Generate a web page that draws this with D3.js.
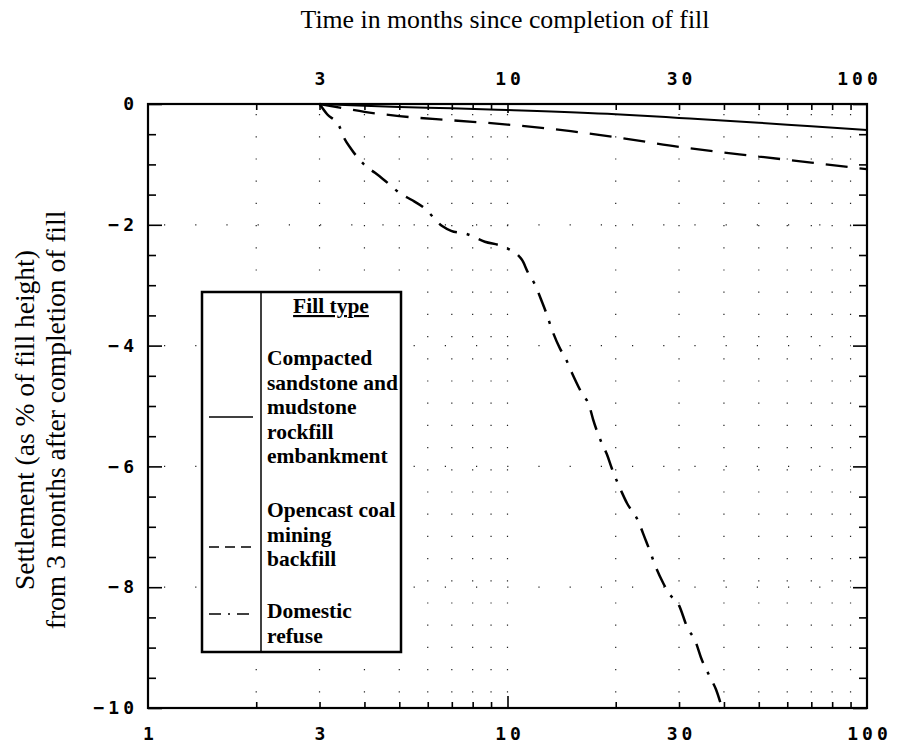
<!DOCTYPE html>
<html>
<head>
<meta charset="utf-8">
<script src="https://cdn.jsdelivr.net/npm/d3@7"></script>
<style>
  body { margin: 0; background: #fff; }
  svg { display: block; }
</style>
</head>
<body>
<div id="chart"></div>
<script>
// months since completion of fill / settlement in % of fill height
const sandstoneX = [3, 4, 5, 7, 10, 20, 30, 50, 70, 100];
const sandstoneY = [0, -0.03, -0.05, -0.07, -0.1, -0.17, -0.23, -0.31, -0.37, -0.43];

const opencastX = [3, 3.5, 4, 5, 7, 10, 15, 20, 30, 50, 70, 100];
const opencastY = [0, -0.07, -0.13, -0.2, -0.27, -0.34, -0.45, -0.55, -0.71, -0.87, -0.97, -1.08];

const refuseX = [3, 3.15, 3.4, 3.51, 3.67, 4.02, 4.28, 4.5, 5.06, 5.42, 5.86, 6.58, 6.97, 7.68, 8.65, 9.71,
  10.97, 11.4, 11.9, 12.5, 12.8, 13.3, 14.0, 14.5, 15.1, 16.1, 16.87, 17.3, 18.3, 18.9, 19.5, 20.8, 21.5,
  22.9, 24.3, 24.9, 25.6, 27.1, 28.1, 30.0, 31.6, 33.4, 34.5, 36.6, 38.0, 39.5];
const refuseY = [0, -0.17, -0.36, -0.56, -0.74, -1.02, -1.14, -1.24, -1.49, -1.59, -1.72, -2.02, -2.1, -2.15, -2.28, -2.36,
  -2.58, -2.79, -2.98, -3.29, -3.45, -3.74, -4.05, -4.21, -4.45, -4.79, -4.99, -5.22, -5.62, -5.8, -6.03, -6.43, -6.61,
  -6.86, -7.24, -7.4, -7.6, -7.93, -8.1, -8.3, -8.66, -8.91, -9.16, -9.49, -9.69, -10];

const bottomLabels = [1, 3, 10, 30, 100];
const topLabels = [3, 10, 30, 100];
const yLabels = [0, -2, -4, -6, -8, -10];
const xMinor = [2, 3, 4, 5, 6, 7, 8, 9, 20, 30, 40, 50, 60, 70, 80, 90];
const xGrid = [2, 3, 4, 5, 6, 7, 8, 9, 10, 20, 30, 40, 50, 60, 70, 80, 90];
const yGrid = [-2, -4, -6, -8];
const yMinor = d3.range(-10, 0.01, 0.5);

const legendItems = [
  { lines: ["Compacted", "sandstone and", "mudstone", "rockfill", "embankment"], dash: null },
  { lines: ["Opencast coal", "mining", "backfill"], dash: "10,6" },
  { lines: ["Domestic", "refuse"], dash: "12,7,2,7" }
];

const W = 902, H = 743;
const pLeft = 148, pRight = 867, pTop = 104, pBottom = 708;
const monoFont = "'DejaVu Sans Mono', monospace";
const serif = "'Liberation Serif', 'Times New Roman', serif";
const ls = 4;

const svg = d3.select("#chart").append("svg")
  .attr("width", W)
  .attr("height", H)
  .style("background", "#fff");

const x = d3.scaleLog().domain([1, 100]).range([pLeft, pRight]);
const y = d3.scaleLinear().domain([-10, 0]).range([pBottom, pTop]);

// sparse dotted grid
svg.append("g").selectAll("line")
  .data(xGrid)
  .enter().append("line")
  .attr("x1", d => x(d)).attr("x2", d => x(d))
  .attr("y1", pTop + 10).attr("y2", pBottom - 8)
  .attr("stroke", "#222")
  .attr("stroke-width", 1.2)
  .attr("stroke-dasharray", "1.2,21");

svg.append("g").selectAll("line")
  .data(yGrid)
  .enter().append("line")
  .attr("x1", pLeft + 16).attr("x2", pRight - 16)
  .attr("y1", d => y(d)).attr("y2", d => y(d))
  .attr("stroke", "#222")
  .attr("stroke-width", 1.2)
  .attr("stroke-dasharray", "1.2,30");

function styleAxis(g) {
  g.select(".domain").remove();
  g.selectAll("line").attr("stroke", "#000").attr("stroke-width", 1.6);
  g.selectAll("text")
    .style("font-family", monoFont)
    .style("font-weight", "bold")
    .style("font-size", "18px")
    .style("letter-spacing", ls + "px")
    .attr("fill", "#000");
}

// bottom axis
svg.append("g")
  .attr("transform", "translate(0," + pBottom + ")")
  .call(d3.axisBottom(x).tickValues(xMinor).tickSizeInner(-6).tickSizeOuter(0).tickFormat(""))
  .call(styleAxis);
svg.append("g")
  .attr("transform", "translate(0," + pBottom + ")")
  .call(d3.axisBottom(x).tickValues([10]).tickSizeInner(-12).tickSizeOuter(0).tickFormat(""))
  .call(styleAxis);
svg.append("g")
  .attr("transform", "translate(" + (ls / 2) + "," + pBottom + ")")
  .call(d3.axisBottom(x).tickValues(bottomLabels).tickSize(0).tickPadding(19).tickFormat(d3.format("d")))
  .call(styleAxis);

// top axis
svg.append("g")
  .attr("transform", "translate(0," + pTop + ")")
  .call(d3.axisTop(x).tickValues(xMinor).tickSizeInner(-6).tickSizeOuter(0).tickFormat(""))
  .call(styleAxis);
svg.append("g")
  .attr("transform", "translate(0," + pTop + ")")
  .call(d3.axisTop(x).tickValues([10]).tickSizeInner(-9).tickSizeOuter(0).tickFormat(""))
  .call(styleAxis);
const topAxis = svg.append("g")
  .attr("transform", "translate(" + (ls / 2) + "," + pTop + ")")
  .call(d3.axisTop(x).tickValues(topLabels).tickSize(0).tickPadding(19).tickFormat(d3.format("d")))
  .call(styleAxis);
// last label sits inside the corner
topAxis.selectAll(".tick text").filter(d => d === 100).attr("dx", -10);

// left and right axes
const yMajor = yMinor.filter(d => d % 2 === 0);
const yMinorOnly = yMinor.filter(d => d % 2 !== 0);
svg.append("g")
  .attr("transform", "translate(" + pLeft + ",0)")
  .call(d3.axisLeft(y).tickValues(yMinorOnly).tickSizeInner(-8).tickSizeOuter(0).tickFormat(""))
  .call(styleAxis);
svg.append("g")
  .attr("transform", "translate(" + pLeft + ",0)")
  .call(d3.axisLeft(y).tickValues(yMajor).tickSizeInner(-14).tickSizeOuter(0).tickFormat(""))
  .call(styleAxis);
svg.append("g")
  .attr("transform", "translate(" + pLeft + ",0)")
  .call(d3.axisLeft(y).tickValues(yLabels).tickSize(0).tickPadding(10).tickFormat(d3.format("d")))
  .call(styleAxis);
svg.append("g")
  .attr("transform", "translate(" + pRight + ",0)")
  .call(d3.axisRight(y).tickValues(yMinorOnly).tickSizeInner(-8).tickSizeOuter(0).tickFormat(""))
  .call(styleAxis);
svg.append("g")
  .attr("transform", "translate(" + pRight + ",0)")
  .call(d3.axisRight(y).tickValues(yMajor).tickSizeInner(-14).tickSizeOuter(0).tickFormat(""))
  .call(styleAxis);

// frame
svg.append("rect")
  .attr("x", pLeft).attr("y", pTop)
  .attr("width", pRight - pLeft).attr("height", pBottom - pTop)
  .attr("fill", "none")
  .attr("stroke", "#000")
  .attr("stroke-width", 2.2);

// curves
const line = d3.line()
  .x(d => x(d[0]))
  .y(d => y(d[1]))
  .curve(d3.curveMonotoneX);

svg.append("path")
  .datum(d3.zip(sandstoneX, sandstoneY))
  .attr("d", line)
  .attr("fill", "none")
  .attr("stroke", "#000")
  .attr("stroke-width", 2);

svg.append("path")
  .datum(d3.zip(opencastX, opencastY))
  .attr("d", line)
  .attr("fill", "none")
  .attr("stroke", "#000")
  .attr("stroke-width", 2.3)
  .attr("stroke-dasharray", "22,12");

svg.append("path")
  .datum(d3.zip(refuseX, refuseY))
  .attr("d", line)
  .attr("fill", "none")
  .attr("stroke", "#000")
  .attr("stroke-width", 2.5)
  .attr("stroke-dasharray", "20,10,3,10");

// titles
svg.append("text")
  .attr("x", 505)
  .attr("y", 28)
  .attr("text-anchor", "middle")
  .style("font-family", serif)
  .style("font-size", "25.8px")
  .text("Time in months since completion of fill");

const ylab = svg.append("text")
  .attr("transform", "translate(0,420) rotate(-90)")
  .attr("text-anchor", "middle")
  .style("font-family", serif)
  .style("font-size", "27.5px");
ylab.append("tspan").attr("x", 0).attr("y", 34).text("Settlement (as % of fill height)");
ylab.append("tspan").attr("x", 0).attr("y", 65).text("from 3 months after completion of fill");

// legend
const lg = svg.append("g");
const lgLeft = 202, lgTop = 292, lgRight = 401, lgBottom = 652, lgDiv = 261;
lg.append("rect")
  .attr("x", lgLeft).attr("y", lgTop)
  .attr("width", lgRight - lgLeft).attr("height", lgBottom - lgTop)
  .attr("fill", "#fff")
  .attr("stroke", "#000")
  .attr("stroke-width", 2.5);
lg.append("line")
  .attr("x1", lgDiv).attr("x2", lgDiv)
  .attr("y1", lgTop).attr("y2", lgBottom)
  .attr("stroke", "#000")
  .attr("stroke-width", 1.5);

lg.append("text")
  .attr("x", (lgDiv + lgRight) / 2)
  .attr("y", 313)
  .attr("text-anchor", "middle")
  .style("font-family", serif)
  .style("font-weight", "bold")
  .style("font-size", "21.5px")
  .style("text-decoration", "underline")
  .text("Fill type");

const firstBaseline = [365, 517, 618];
const sampleY = [417, 547, 614];
legendItems.forEach(function (item, i) {
  lg.append("line")
    .attr("x1", 209).attr("x2", 253)
    .attr("y1", sampleY[i]).attr("y2", sampleY[i])
    .attr("stroke", "#000")
    .attr("stroke-width", 1.5)
    .attr("stroke-dasharray", item.dash);
  lg.selectAll(null)
    .data(item.lines)
    .enter().append("text")
    .attr("x", 267)
    .attr("y", (d, j) => firstBaseline[i] + j * 24.5)
    .style("font-family", serif)
    .style("font-weight", "bold")
    .style("font-size", "21.5px")
    .text(d => d);
});
</script>
</body>
</html>
